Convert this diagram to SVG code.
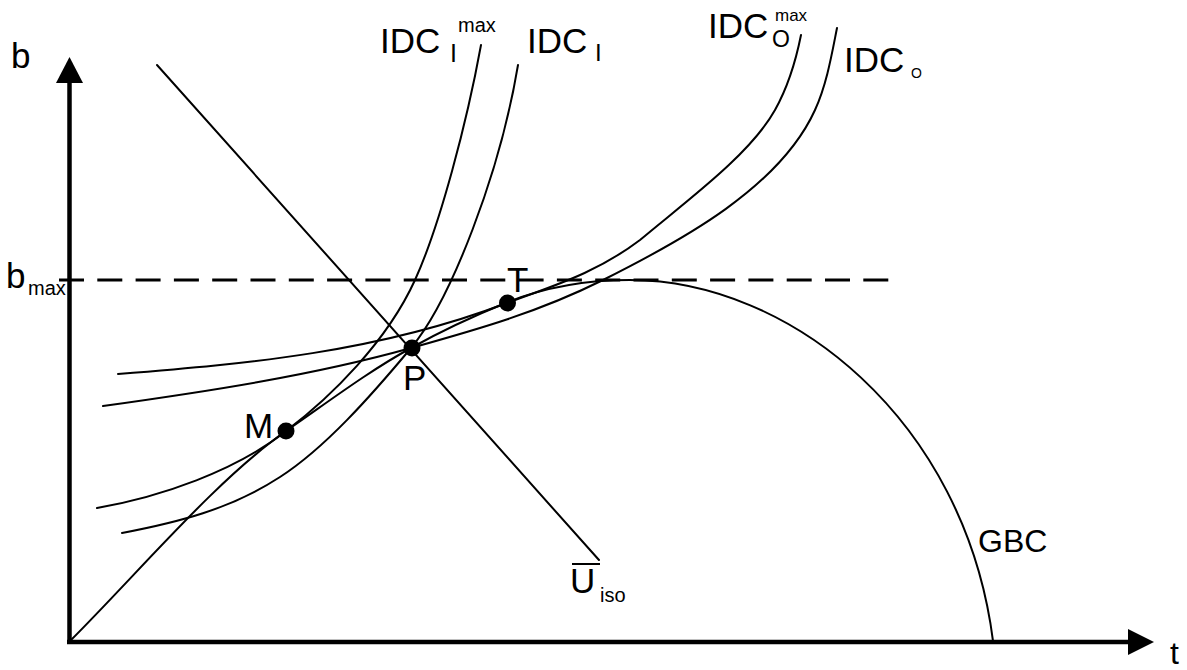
<svg xmlns="http://www.w3.org/2000/svg" width="1187" height="670" viewBox="0 0 1187 670">
<style>
.c{fill:none;stroke:#000;stroke-width:2;stroke-linecap:round}
.ax{fill:none;stroke:#000;stroke-width:4.5}
.d{fill:none;stroke:#000;stroke-width:3;stroke-dasharray:25 13.3}
.t{font-family:"Liberation Sans",Arial,sans-serif;fill:#000}
.L{font-size:35px}
.s{font-size:20px}
</style>
<rect width="1187" height="670" fill="#fff"/>
<g id="axes">
<line class="ax" x1="69.5" y1="80" x2="69.5" y2="644"/>
<polygon points="69.5,57 56,83 83,83" fill="#000"/>
<line class="ax" x1="67" y1="642" x2="1130" y2="642"/>
<polygon points="1154,642 1128,629 1128,655" fill="#000"/>
<text class="t L" x="11" y="68">b</text>
<text class="t" x="1170" y="664" font-size="32">t</text>
</g>
<g id="connectors">
<line class="d" x1="59" y1="280" x2="890" y2="280"/>
<line class="c" x1="157" y1="65" x2="599" y2="560"/>
<path id="GBC" class="c" d="M70,641 C140,571 216,480 286,431 C328,402 369,371 411,348 C443,330 476,315 508,302 C548,286 590,280 630,280 C790,280 965,420 993,641"/>
<path id="IDCImax" class="c" d="M97,508 C160,497 236,471 286,431 C331,397 387,341.6 415,280 C440,225 467,122 481,45"/>
<path id="IDCI" class="c" d="M122,533 C177,522.5 230,509.5 280,477 C325,448 371,396 411,348 C451,300 500,173 518,65"/>
<path id="IDCOmax" class="c" d="M118,374 C248,363.6 377,352.4 507,303 C552,286 595,274 640,240 C685,202 750,155 775,110 C789,85 797,55 801,35"/>
<path id="IDCO" class="c" d="M103,406 C203,392 311,376 411,348 C476,329.8 538,312.5 603,280 C683,240 780,187 815,110 C827,83.6 832,53 837,28"/>
</g>
<g id="node-M"><circle cx="286" cy="431" r="8.5"/><text class="t L" x="244" y="438">M</text></g>
<g id="node-P"><circle cx="412" cy="348" r="8.5"/><text class="t L" x="403" y="390">P</text></g>
<g id="node-T"><circle cx="507.5" cy="303" r="8.5"/><text class="t L" x="507" y="292">T</text></g>
<g id="label-bmax"><text class="t L" x="6" y="288">b</text><text class="t s" x="28" y="295">max</text></g>
<g id="label-Uiso"><line x1="572" y1="564" x2="600" y2="564" stroke="#000" stroke-width="2"/><text class="t L" x="570" y="593">U</text><text class="t s" x="600" y="602">iso</text></g>
<g id="label-GBC"><text class="t" x="978" y="552" font-size="32">GBC</text></g>
<g id="label-IDCImax"><text class="t L" x="380" y="53">IDC</text><text class="t" x="450" y="62" font-size="25">I</text><text class="t s" x="458" y="32">max</text></g>
<g id="label-IDCI"><text class="t L" x="527" y="53">IDC</text><text class="t" x="595" y="61" font-size="24">I</text></g>
<g id="label-IDCOmax"><text class="t L" x="708" y="38">IDC</text><text class="t" x="772" y="47" font-size="23">O</text><text class="t" x="775" y="21" font-size="17">max</text></g>
<g id="label-IDCO"><text class="t L" x="844" y="72">IDC</text><text class="t" x="911" y="78" font-size="14">O</text></g>
</svg>
